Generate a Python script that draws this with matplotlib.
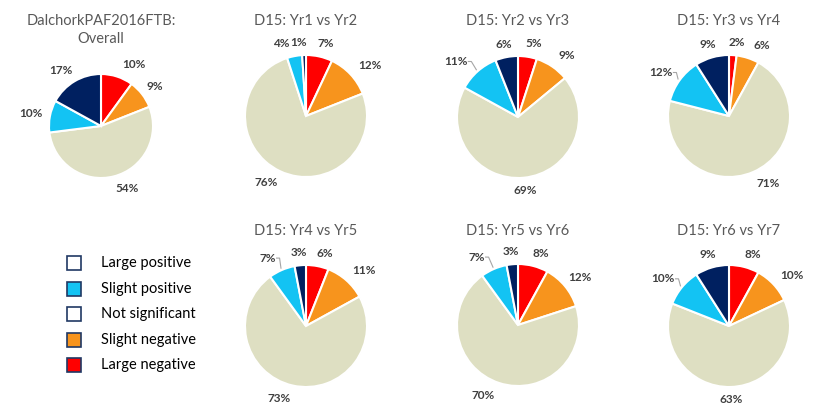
import numpy as np
import matplotlib
matplotlib.use("Agg")
import matplotlib.pyplot as plt
from matplotlib.patches import Rectangle

# ---------------- data ----------------
categories = ["Large negative", "Slight negative", "Not significant", "Slight positive", "Large positive"]
chart_titles = ["DalchorkPAF2016FTB:\nOverall", "D15: Yr1 vs Yr2", "D15: Yr2 vs Yr3", "D15: Yr3 vs Yr4",
                "D15: Yr4 vs Yr5", "D15: Yr5 vs Yr6", "D15: Yr6 vs Yr7"]
overall   = [10, 9, 54, 10, 17]
yr1_yr2   = [7, 12, 76, 4, 1]
yr2_yr3   = [5, 9, 69, 11, 6]
yr3_yr4   = [2, 6, 71, 12, 9]
yr4_yr5   = [6, 11, 73, 7, 3]
yr5_yr6   = [8, 12, 70, 7, 3]
yr6_yr7   = [8, 10, 63, 10, 9]
series = [overall, yr1_yr2, yr2_yr3, yr3_yr4, yr4_yr5, yr5_yr6, yr6_yr7]

legend_order = ["Large positive", "Slight positive", "Not significant", "Slight negative", "Large negative"]

# ---------------- style ----------------
colors = ["#FF0000", "#F7941D", "#DEDFC2", "#13C3F3", "#002060"]
legend_face = {"Large positive": "#FFFFFF", "Slight positive": "#13C3F3", "Not significant": "#FFFFFF",
               "Slight negative": "#F7941D", "Large negative": "#FF0000"}
FONT = "Lato"
W, H = 830, 411
# (center x, center y [pixels from top], radius, title y from top)
layout = [(101, 126, 52, 30), (306, 116, 61, 21), (518, 117, 61, 21), (729, 116, 61, 21),
          (306, 326, 61, 231), (518, 325, 61, 231), (729, 326, 61, 231)]
# label indices that have a leader line
leader = {2: [3], 3: [3], 4: [3], 5: [3], 6: [3]}
# horizontal label nudges in pixels (chart -> {slice index: dx})
nudge = {0: {0: 11, 2: 8, 4: -4},
         1: {0: 3, 1: 5, 2: -5, 3: -10, 4: -5},
         2: {0: 4, 1: 5, 3: -9},
         3: {0: 3, 1: 9, 2: 7, 3: -3},
         4: {0: 4, 1: 5, 2: -9, 3: -8},
         5: {0: 4, 2: -10, 3: -11},
         6: {0: 5, 1: 4, 3: -4}}
GAP = 8

fig = plt.figure(figsize=(W / 100, H / 100), dpi=100)
ax = fig.add_axes([0, 0, 1, 1])
renderer = fig.canvas.get_renderer()

for k, (vals, title) in enumerate(zip(series, chart_titles)):
    cx, cyt, r, ty = layout[k]
    cy = H - cyt
    wedges, _ = ax.pie(vals, colors=colors, startangle=90, counterclock=False,
                       center=(cx, cy), radius=r, frame=True,
                       wedgeprops=dict(edgecolor="white", linewidth=1.5))
    ax.text(cx, H - ty, title, ha="center", va="center", fontsize=10.5, color="#595959",
            family=FONT, linespacing=1.35)
    total = float(sum(vals))
    for i, (wdg, v) in enumerate(zip(wedges, vals)):
        ang = np.deg2rad((wdg.theta1 + wdg.theta2) / 2)
        ux, uy = np.cos(ang), np.sin(ang)
        t = ax.text(0, 0, f"{v / total * 100:.0f}%", ha="center", va="center", fontsize=8.5,
                    fontweight="bold", color="#404040", family=FONT)
        bb = t.get_window_extent(renderer)
        w, h = bb.width, 10.0
        x = cx + (r + GAP) * ux + (w / 2) * ux + nudge.get(k, {}).get(i, 0)
        y = cy + (r + GAP) * uy + (h / 2) * uy
        t.set_position((x, y))
        if i in leader.get(k, []):
            x0 = x + w / 2 + 1
            ex, ey = cx + (r + 2) * ux, cy + (r + 2) * uy
            ax.plot([x0, x0 + 3, ex], [y, y, ey], color="#A6A6A6", lw=0.8)

# legend
for j, name in enumerate(legend_order):
    yc = H - (263 + j * 25.5)
    ax.add_patch(Rectangle((74 - 7, yc - 7), 14, 14, facecolor=legend_face[name],
                           edgecolor="#203864", linewidth=1.2))
    ax.text(101, yc, name, ha="left", va="center", fontsize=10.5, color="#000000", family=FONT)

ax.set_xlim(0, W)
ax.set_ylim(0, H)
ax.set_aspect("equal")
ax.axis("off")
fig.savefig("out.png", dpi=100)
